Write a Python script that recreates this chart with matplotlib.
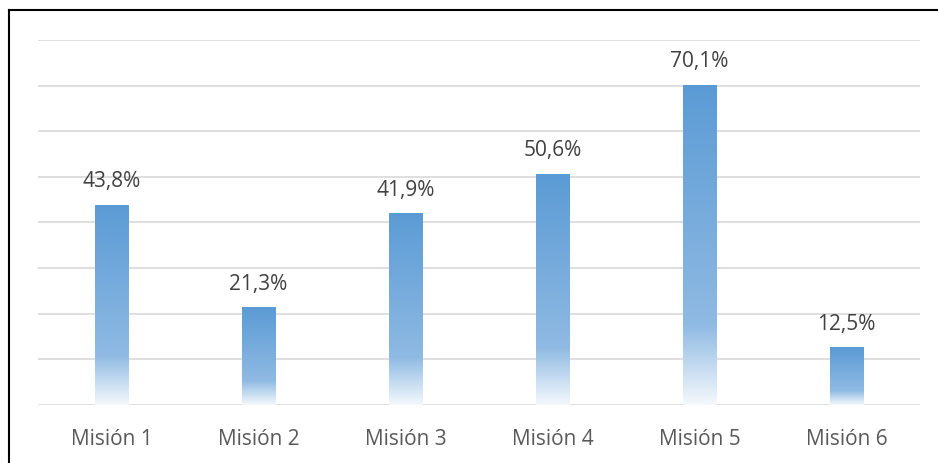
import numpy as np
import matplotlib.pyplot as plt
from matplotlib.colors import LinearSegmentedColormap
from matplotlib.lines import Line2D

# Data
categories = ['Misión 1', 'Misión 2', 'Misión 3', 'Misión 4', 'Misión 5', 'Misión 6']
values = [43.8, 21.3, 41.9, 50.6, 70.1, 12.5]
labels = ['43,8%', '21,3%', '41,9%', '50,6%', '70,1%', '12,5%']

plt.rcParams['font.family'] = ['Open Sans', 'DejaVu Sans']

fig = plt.figure(figsize=(9.38, 4.63), dpi=100)
ax = fig.add_axes([0.0405, 0.1253, 0.9405, 0.7883])

# gradient: white at the bottom, fading into blue
cmap = LinearSegmentedColormap.from_list(
    'bar', [(0.0, '#F4F8FC'), (0.25, '#8FBAE3'), (1.0, '#5B9BD5')])
grad = np.linspace(0, 1, 256).reshape(-1, 1)

width = 0.23
x = np.arange(len(categories))
for xi, v, lab in zip(x, values, labels):
    ax.imshow(grad, cmap=cmap, origin='lower', aspect='auto',
              extent=[xi - width / 2, xi + width / 2, 0, v], zorder=3)
    ax.annotate(lab, (xi, v), xytext=(0, 9.5), textcoords='offset points',
                ha='center', va='bottom', fontsize=15, color='#404040')

ax.set_xlim(-0.5, len(categories) - 0.5)
ax.set_ylim(0, 80)
ax.set_yticks(np.arange(0, 81, 10))
ax.yaxis.grid(True, color='#D9D9D9', linewidth=1.2, zorder=0)
ax.set_axisbelow(True)
ax.tick_params(axis='y', left=False, labelleft=False)
ax.set_xticks(x)
ax.set_xticklabels(categories, fontsize=15, color='#595959')
ax.tick_params(axis='x', length=0, pad=17)
for s in ax.spines.values():
    s.set_visible(False)

# chart frame (only top and left edges visible)
fig.add_artist(Line2D([8.5 / 938, 8.5 / 938], [0, 1 - 10 / 463], color='black', lw=1.5))
fig.add_artist(Line2D([8.5 / 938, 1], [1 - 10 / 463, 1 - 10 / 463], color='black', lw=1.5))

fig.savefig('out.png', dpi=100)
